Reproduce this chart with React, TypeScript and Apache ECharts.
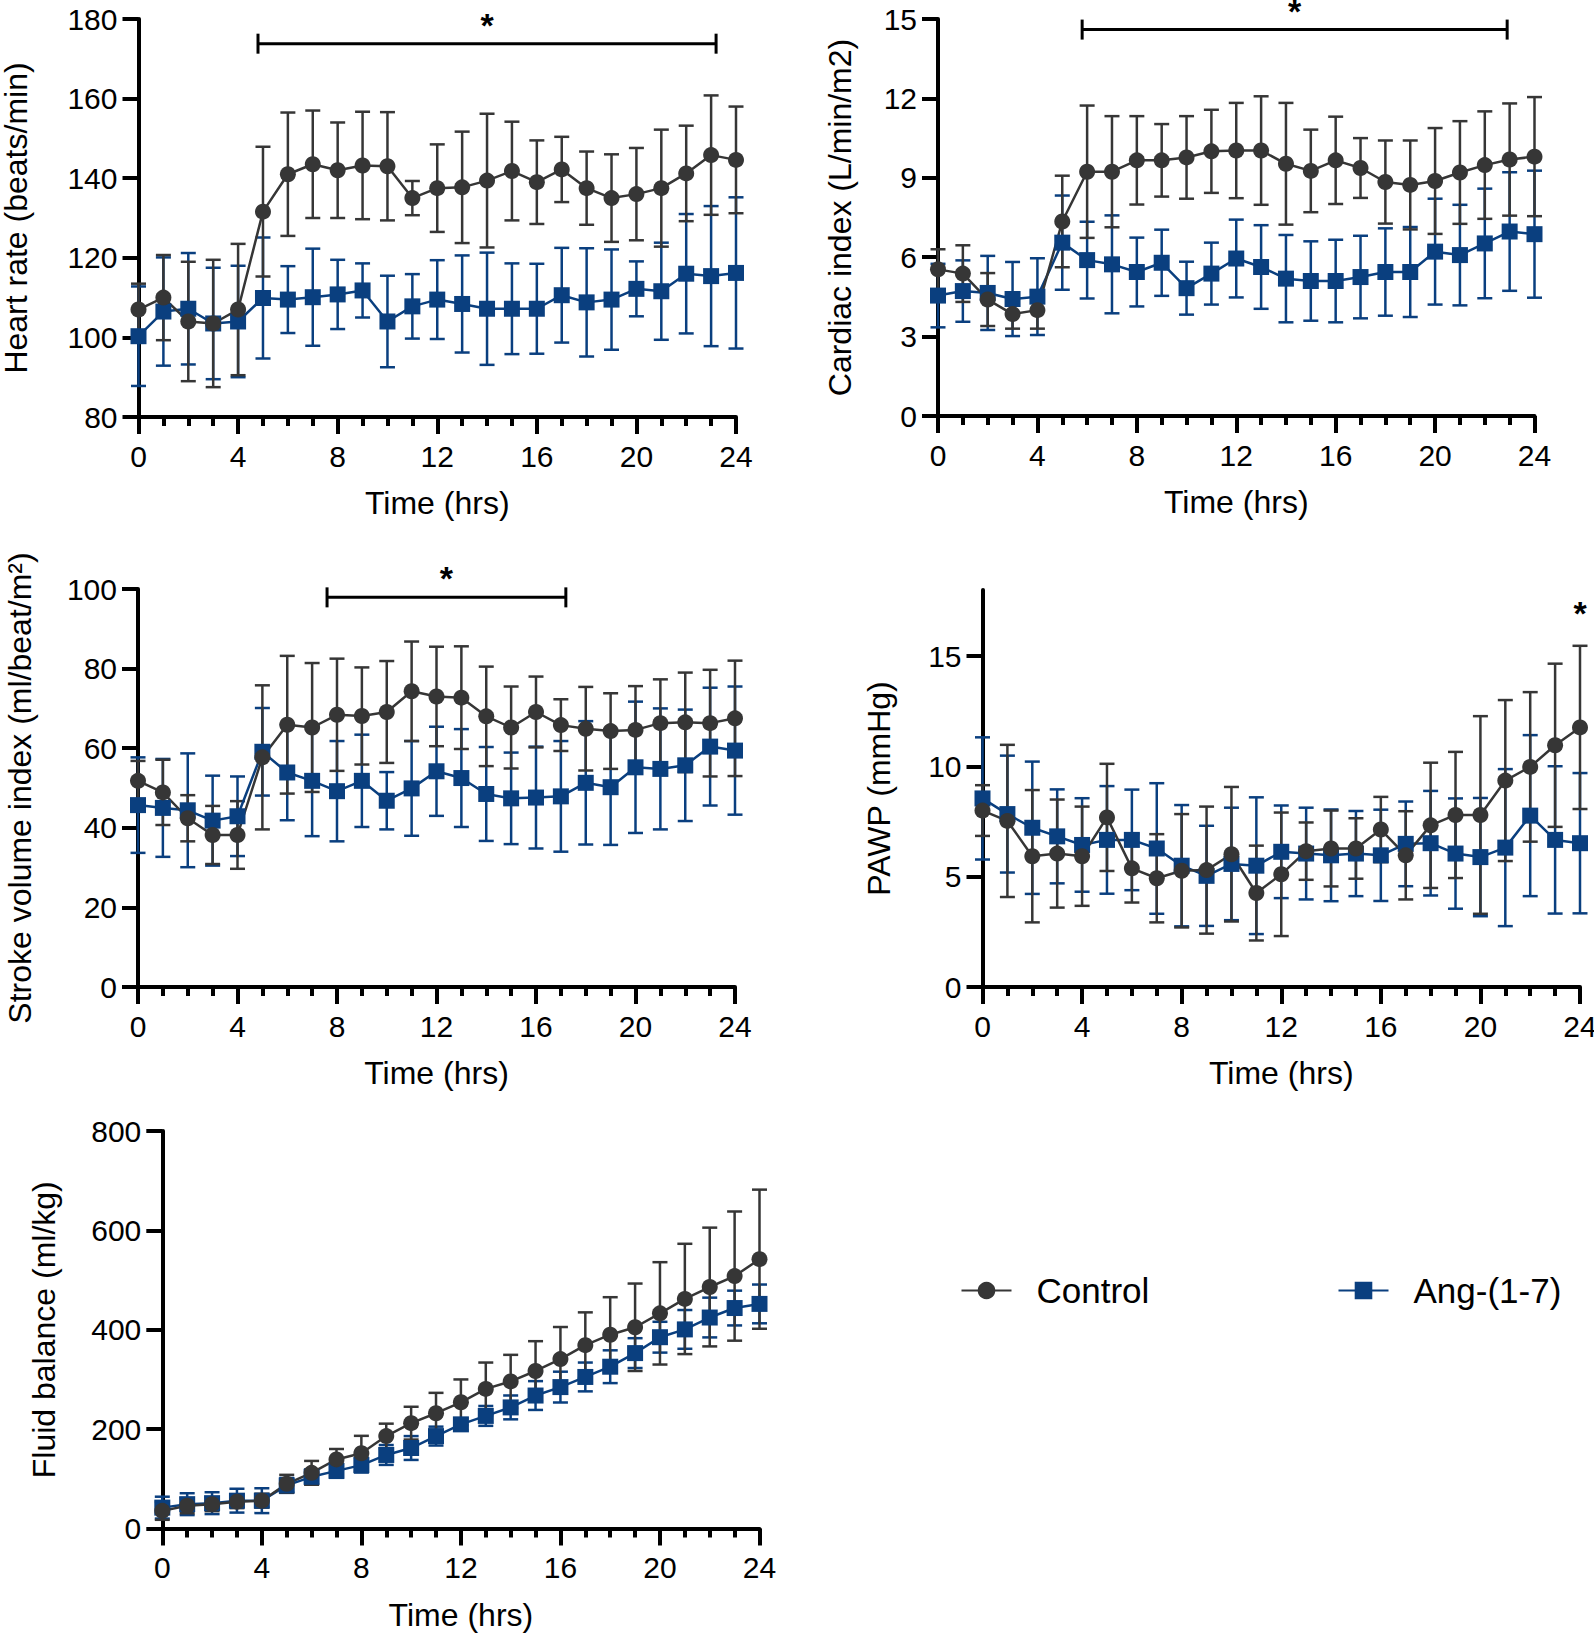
import React, { useEffect, useRef } from "react";
import * as echarts from "echarts";

const FONT = '"Liberation Sans", Arial, sans-serif';
const CTRL = "#363636";
const ANG = "#0a3f7f";

const hours = [0, 1, 2, 3, 4, 5, 6, 7, 8, 9, 10, 11, 12, 13, 14, 15, 16, 17, 18, 19, 20, 21, 22, 23, 24];
const xTickLabels = [0, 4, 8, 12, 16, 20, 24];

// Heart rate (beats/min)
const hrCtrl = [107, 110, 104, 103.5, 107, 131.6, 141, 143.5, 142, 143.2, 143, 135, 137.5, 137.7, 139.4, 141.8, 139, 142.2, 137.5, 135, 136, 137.5, 141.2, 145.8, 144.6];
const hrCtrlSd = [6.5, 10.7, 15, 16, 16.5, 16.3, 15.5, 13.5, 12, 13.5, 13.6, 4.3, 11, 14, 16.8, 12.4, 10.5, 8.2, 9.2, 11, 11.6, 14.7, 12, 15, 13.4];
const hrAng = [100.3, 106.5, 107.2, 103.5, 104, 109.9, 109.5, 110.1, 110.8, 111.8, 104, 107.8, 109.5, 108.4, 107.2, 107.2, 107.2, 110.6, 108.8, 109.5, 112.2, 111.6, 116, 115.4, 116.2];
const hrAngSd = [12.5, 13.6, 14, 14, 14, 15.2, 8.4, 12.2, 8.7, 6.8, 11.5, 8.1, 9.9, 12.2, 14.1, 11.4, 11.3, 11.9, 13.6, 12.6, 6.9, 12.2, 15, 17.6, 19];
const hrSig = [4.8, 23.2, 173.8];

// Cardiac index (L/min/m2)
const ciCtrl = [5.54, 5.38, 4.4, 3.85, 4.0, 7.35, 9.23, 9.23, 9.66, 9.66, 9.77, 10.0, 10.03, 10.03, 9.53, 9.26, 9.66, 9.37, 8.84, 8.73, 8.88, 9.2, 9.48, 9.69, 9.8];
const ciCtrlSd = [0.76, 1.07, 1.0, 0.55, 0.7, 1.73, 2.5, 2.1, 1.67, 1.37, 1.56, 1.57, 1.8, 2.05, 2.3, 1.56, 1.65, 1.13, 1.57, 1.68, 2.0, 1.94, 2.03, 2.12, 2.25];
const ciAng = [4.55, 4.72, 4.65, 4.42, 4.51, 6.55, 5.89, 5.73, 5.44, 5.79, 4.83, 5.38, 5.95, 5.63, 5.19, 5.1, 5.1, 5.25, 5.44, 5.44, 6.21, 6.08, 6.52, 6.97, 6.87];
const ciAngSd = [1.2, 1.16, 1.4, 1.4, 1.45, 1.78, 1.45, 1.85, 1.3, 1.25, 1.0, 1.17, 1.47, 1.58, 1.65, 1.5, 1.56, 1.56, 1.65, 1.7, 2.0, 1.9, 2.07, 2.24, 2.4];
const ciSig = [5.8, 22.9, 14.6];

// Stroke volume index (ml/beat/m2)
const svCtrl = [51.8, 48.9, 42.4, 38.2, 38.2, 57.7, 65.9, 65.2, 68.4, 68.1, 69.1, 74.3, 73.0, 72.7, 68.0, 65.2, 69.1, 65.8, 64.9, 64.3, 64.6, 66.3, 66.5, 66.3, 67.5];
const svCtrlSd = [5, 8.2, 5.8, 7.3, 8.5, 18.1, 17.3, 16.2, 14.1, 12.2, 12.8, 12.5, 12.5, 12.9, 12.5, 10.3, 8.9, 6.5, 10.5, 9.5, 11, 11, 12.5, 13.4, 14.5];
const svAng = [45.7, 45, 44.4, 41.8, 42.9, 59.1, 53.9, 51.8, 49.2, 51.8, 46.8, 49.9, 54.2, 52.5, 48.5, 47.4, 47.6, 47.9, 51.3, 50.2, 55.2, 54.8, 55.7, 60.4, 59.4];
const svAngSd = [12, 12.3, 14.3, 11.3, 10, 11, 12, 13.9, 12.6, 11.6, 7.2, 11.9, 11.2, 12.3, 11.8, 11.5, 12.8, 13.9, 15.5, 14.5, 16.5, 15.2, 14, 14.8, 16.1];
const svSig = [7.6, 17.2, 97.9];

// PAWP (mmHg)
const pwCtrl = [8.0, 7.53, 5.93, 6.05, 5.93, 7.69, 5.38, 4.93, 5.27, 5.3, 6.02, 4.26, 5.11, 6.16, 6.28, 6.28, 7.14, 5.97, 7.33, 7.8, 7.8, 9.36, 9.98, 10.96, 11.77];
const pwCtrlSd = [1.15, 3.45, 3.0, 2.45, 2.25, 2.43, 1.55, 2.0, 2.57, 2.88, 3.05, 2.15, 2.8, 1.3, 1.72, 1.37, 1.48, 2.0, 2.84, 2.86, 4.48, 3.65, 3.39, 3.7, 3.7];
const pwAng = [8.55, 7.84, 7.22, 6.83, 6.44, 6.67, 6.67, 6.28, 5.5, 5.04, 5.58, 5.5, 6.13, 6.05, 5.97, 6.05, 5.97, 6.49, 6.52, 6.05, 5.89, 6.32, 7.77, 6.67, 6.52];
const pwAngSd = [2.77, 2.65, 3.0, 2.13, 2.12, 2.44, 2.28, 2.96, 2.75, 2.27, 2.55, 3.1, 2.1, 2.08, 2.08, 1.93, 2.07, 1.92, 2.37, 2.5, 2.68, 3.56, 3.65, 3.34, 3.18];
const pwStar = [24, 17.05];
const pwTicks = [0, 5, 10, 15];

// Fluid balance (ml/kg)
const fbCtrl = [35.5, 45.7, 49, 54, 56, 90, 112, 139, 151.5, 186, 212, 232, 254, 281, 296, 317, 341, 369, 390, 405, 433, 462, 486, 508, 542];
const fbCtrlSd = [18, 15, 14, 13, 14, 18, 24, 21, 35, 25, 33, 41, 46, 53, 53.5, 60, 64.5, 66, 75.5, 88, 103, 111, 119.5, 130, 140];
const fbAng = [42, 49, 51, 56, 56, 86.7, 104, 116, 127.6, 148, 162, 186, 209.6, 226.6, 243.7, 267.6, 284.6, 305, 325.6, 353, 385, 400.7, 424.6, 443.7, 452];
const fbAngSd = [22, 22, 22, 24, 25, 15, 15, 14, 15, 20, 24, 19, 12, 20, 24, 29, 31, 29, 33, 30, 31, 39, 40, 35, 39];

const panels = [
  { ctrl: hrCtrl, ctrlSd: hrCtrlSd, ang: hrAng, angSd: hrAngSd, sig: hrSig, star: null, yMin: 80, yMax: 180, yInt: 20, yTicks: null, yName: "Heart rate (beats/min)", grid: { left: 138.5, top: 19, width: 597.5, height: 398 }, nameGap: 107 },
  { ctrl: ciCtrl, ctrlSd: ciCtrlSd, ang: ciAng, angSd: ciAngSd, sig: ciSig, star: null, yMin: 0, yMax: 15, yInt: 3, yTicks: null, yName: "Cardiac index (L/min/m2)", grid: { left: 938, top: 19, width: 596.5, height: 397 }, nameGap: 82 },
  { ctrl: svCtrl, ctrlSd: svCtrlSd, ang: svAng, angSd: svAngSd, sig: svSig, star: null, yMin: 0, yMax: 100, yInt: 20, yTicks: null, yName: "Stroke volume index (ml/beat/m²)", grid: { left: 138, top: 589, width: 597, height: 398 }, nameGap: 102 },
  { ctrl: pwCtrl, ctrlSd: pwCtrlSd, ang: pwAng, angSd: pwAngSd, sig: null, star: pwStar, yMin: 0, yMax: 18, yInt: 5, yTicks: pwTicks, yName: "PAWP (mmHg)", grid: { left: 982.5, top: 590, width: 597.5, height: 397 }, nameGap: 88 },
  { ctrl: fbCtrl, ctrlSd: fbCtrlSd, ang: fbAng, angSd: fbAngSd, sig: null, star: null, yMin: 0, yMax: 800, yInt: 200, yTicks: null, yName: "Fluid balance (ml/kg)", grid: { left: 162.3, top: 1131, width: 597.2, height: 397.5 }, nameGap: 102 },
];

function errRender(color: string) {
  return (params: any, api: any) => {
    const x = api.value(0);
    const m = api.value(1);
    const sd = api.value(2);
    const top = api.coord([x, m + sd]);
    const bot = api.coord([x, m - sd]);
    const hw = 7.5;
    const st = { stroke: color, lineWidth: 2.5, fill: null };
    return {
      type: "group",
      children: [
        { type: "line", shape: { x1: top[0], y1: top[1], x2: bot[0], y2: bot[1] }, style: st },
        { type: "line", shape: { x1: top[0] - hw, y1: top[1], x2: top[0] + hw, y2: top[1] }, style: st },
        { type: "line", shape: { x1: bot[0] - hw, y1: bot[1], x2: bot[0] + hw, y2: bot[1] }, style: st },
      ],
    };
  };
}

const starStyle = { text: "*", font: `bold 34px ${FONT}`, fill: "#000", align: "center", verticalAlign: "middle", textAlign: "center", textVerticalAlign: "middle" };

function sigRender(params: any, api: any) {
  const a = api.coord([api.value(0), api.value(2)]);
  const b = api.coord([api.value(1), api.value(2)]);
  const st = { stroke: "#000", lineWidth: 3, fill: null };
  return {
    type: "group",
    children: [
      { type: "line", shape: { x1: a[0], y1: a[1], x2: b[0], y2: b[1] }, style: st },
      { type: "line", shape: { x1: a[0], y1: a[1] - 10, x2: a[0], y2: a[1] + 10 }, style: st },
      { type: "line", shape: { x1: b[0], y1: b[1] - 10, x2: b[0], y2: b[1] + 10 }, style: st },
      { type: "text", x: (a[0] + b[0]) / 2, y: a[1] - 19, style: starStyle },
    ],
  };
}

function starRender(params: any, api: any) {
  const p = api.coord([api.value(0), api.value(1)]);
  return { type: "text", x: p[0], y: p[1] + 2, style: starStyle };
}

function buildOption() {
  const grid: any[] = [];
  const xAxis: any[] = [];
  const yAxis: any[] = [];
  const series: any[] = [];
  panels.forEach((p, i) => {
    grid.push({ ...p.grid, containLabel: false, outerBoundsMode: "none" });
    xAxis.push({
      type: "value",
      gridIndex: i,
      min: 0,
      max: 24,
      interval: 4,
      axisLine: { show: true, onZero: false, lineStyle: { color: "#000", width: 4 } },
      axisTick: { show: true, length: 17, lineStyle: { color: "#000", width: 4 } },
      minorTick: { show: true, splitNumber: 4, length: 9, lineStyle: { color: "#000", width: 4 } },
      splitLine: { show: false },
      minorSplitLine: { show: false },
      axisLabel: { color: "#000", fontSize: 30, fontFamily: FONT, margin: 24, customValues: xTickLabels },
      name: "Time (hrs)",
      nameLocation: "middle",
      nameGap: 70,
      nameMoveOverlap: false,
      nameTextStyle: { color: "#000", fontSize: 32, fontFamily: FONT },
    });
    const yTick: any = { show: true, length: 16, lineStyle: { color: "#000", width: 4 } };
    const yLab: any = { color: "#000", fontSize: 30, fontFamily: FONT, margin: 21 };
    if (p.yTicks) {
      yTick.customValues = p.yTicks;
      yLab.customValues = p.yTicks;
    }
    yAxis.push({
      type: "value",
      gridIndex: i,
      min: p.yMin,
      max: p.yMax,
      interval: p.yInt,
      axisLine: { show: true, onZero: false, lineStyle: { color: "#000", width: 4 } },
      axisTick: yTick,
      splitLine: { show: false },
      axisLabel: yLab,
      name: p.yName,
      nameLocation: "middle",
      nameGap: p.nameGap,
      nameRotate: 90,
      nameMoveOverlap: false,
      nameTextStyle: { color: "#000", fontSize: 32, fontFamily: FONT },
    });
    series.push({
      type: "custom",
      name: "Ang-(1-7) SD",
      xAxisIndex: i,
      yAxisIndex: i,
      renderItem: errRender(ANG),
      clip: false,
      data: hours.map((h, k) => [h, p.ang[k], p.angSd[k]]),
    });
    series.push({
      type: "line",
      name: "Ang-(1-7)",
      xAxisIndex: i,
      yAxisIndex: i,
      symbol: "rect",
      symbolSize: 16,
      lineStyle: { color: ANG, width: 2.5 },
      itemStyle: { color: ANG },
      data: hours.map((h, k) => [h, p.ang[k]]),
    });
    series.push({
      type: "custom",
      name: "Control SD",
      xAxisIndex: i,
      yAxisIndex: i,
      renderItem: errRender(CTRL),
      clip: false,
      data: hours.map((h, k) => [h, p.ctrl[k], p.ctrlSd[k]]),
    });
    series.push({
      type: "line",
      name: "Control",
      xAxisIndex: i,
      yAxisIndex: i,
      symbol: "circle",
      symbolSize: 16,
      lineStyle: { color: CTRL, width: 2.5 },
      itemStyle: { color: CTRL },
      data: hours.map((h, k) => [h, p.ctrl[k]]),
    });
    if (p.sig) {
      series.push({
        type: "custom",
        name: "sig" + i,
        xAxisIndex: i,
        yAxisIndex: i,
        renderItem: sigRender,
        clip: false,
        data: [p.sig],
      });
    }
    if (p.star) {
      series.push({
        type: "custom",
        name: "star" + i,
        xAxisIndex: i,
        yAxisIndex: i,
        renderItem: starRender,
        clip: false,
        data: [p.star],
      });
    }
  });
  const legendBase = {
    orient: "horizontal",
    top: 1273,
    itemWidth: 50,
    itemHeight: 22,
    padding: 0,
    selectedMode: false,
    textStyle: { color: "#000", fontSize: 35, fontFamily: FONT, padding: [0, 0, 0, 20] },
  };
  return {
    animation: false,
    backgroundColor: "#fff",
    grid,
    xAxis,
    yAxis,
    series,
    legend: [
      { ...legendBase, left: 960.5, data: ["Control"] },
      { ...legendBase, left: 1337.5, data: ["Ang-(1-7)"] },
    ],
  };
}

export default function App() {
  const ref = useRef<HTMLDivElement>(null);
  useEffect(() => {
    document.body.style.margin = "0";
    const chart = echarts.init(ref.current as HTMLDivElement, null, { renderer: "svg" });
    chart.setOption(buildOption() as any);
    return () => chart.dispose();
  }, []);
  return <div ref={ref} style={{ width: 1594, height: 1633 }} />;
}
